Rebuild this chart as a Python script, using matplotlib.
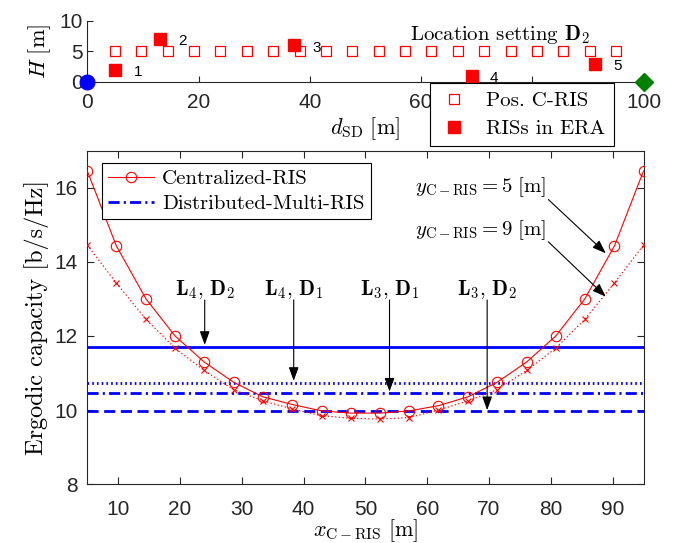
import matplotlib
matplotlib.use("Agg")
import matplotlib.pyplot as plt
from matplotlib.lines import Line2D


# CONFIGURATION

plt.rcParams['mathtext.fontset'] = 'cm'
plt.rcParams['font.family'] = 'Liberation Sans'
plt.rcParams['lines.scale_dashes'] = False
axis_gray = '#262626'
serif = 'cmr10'


# DATA

# C-RIS positions along the source-destination line [m]
x_cris = [5, 9.7, 14.5, 19.2, 23.9, 28.7, 33.4, 38.2, 42.9, 47.6,
          52.4, 57.1, 61.8, 66.6, 71.3, 76.1, 80.8, 85.5, 90.3, 95]
h_cris = [5] * len(x_cris)

# RISs used in the ERA (location setting D2)
ris_x = [5.0, 13.1, 37.1, 69.1, 91.2]
ris_h = [2, 7, 6, 1, 3]
ris_ids = ['1', '2', '3', '4', '5']

# ergodic capacity of the centralized RIS [b/s/Hz]
cap_y5 = [16.45, 14.43, 13.0, 12.0, 11.3, 10.75, 10.36, 10.15, 9.98, 9.92,
          9.92, 9.98, 10.12, 10.36, 10.75, 11.3, 12.0, 13.0, 14.43, 16.45]
cap_y9 = [14.45, 13.43, 12.45, 11.67, 11.07, 10.55, 10.25, 10.03, 9.85, 9.78,
          9.76, 9.8, 10.0, 10.25, 10.55, 11.07, 11.67, 12.45, 13.43, 14.45]

# distributed multi-RIS capacity for the four settings
dist_cap = [11.7, 10.73, 10.46, 9.97]
dist_names = [r'$\mathbf{L_4},\,\mathbf{D_2}$', r'$\mathbf{L_4},\,\mathbf{D_1}$',
              r'$\mathbf{L_3},\,\mathbf{D_1}$', r'$\mathbf{L_3},\,\mathbf{D_2}$']


# FIGURE

fig = plt.figure(figsize=(6.73, 5.43), dpi=100)
ax_top = fig.add_axes([0.1297, 0.849, 0.8265, 0.113])
ax = fig.add_axes([0.1297, 0.1081, 0.8265, 0.6146])


# TOP: GEOMETRY

ax_top.plot(x_cris, h_cris, 's', mfc='none', mec='red', ms=7, mew=0.9,
            label='Pos. C-RIS', zorder=3)
ax_top.plot(ris_x, ris_h, 's', color='red', ms=9, label='RISs in ERA', zorder=3)
for xi, hi, name in zip(ris_x, ris_h, ris_ids):
    ax_top.text(xi + 3.3, hi - 0.4, name, fontsize=11, ha='left', va='center',
                color='k')
ax_top.plot([0], [0], 'o', color='blue', ms=10.5, clip_on=False, zorder=4)
ax_top.plot([100], [0], 'D', color=(0, 0.5, 0), ms=9.5, clip_on=False, zorder=4)
ax_top.text(74.2, 7.8, r'Location setting $\mathbf{D_2}$', fontfamily=serif,
            fontsize=15, ha='center', va='center')

ax_top.set_xlim(0, 100)
ax_top.set_ylim(0, 10)
ax_top.set_xticks([0, 20, 40, 60, 80, 100])
ax_top.set_yticks([0, 5, 10])
ax_top.spines['top'].set_visible(False)
ax_top.spines['right'].set_visible(False)
for s in ax_top.spines.values():
    s.set_color(axis_gray)
    s.set_linewidth(0.8)
ax_top.tick_params(direction='in', length=4, labelsize=15, colors=axis_gray)
ax_top.tick_params(axis='x', pad=8)
ax_top.set_xlabel(r'$d_{\mathrm{SD}}\ [\mathrm{m}]$', fontsize=16, labelpad=2)
ax_top.set_ylabel(r'$H\ [\mathrm{m}]$', fontsize=16, labelpad=4)
ax_top.patch.set_alpha(0)

leg_top = ax_top.legend(loc='upper left', bbox_to_anchor=(430 / 673, 1 - 83 / 543),
                        bbox_transform=fig.transFigure, borderaxespad=0,
                        fancybox=False, framealpha=1, edgecolor='k',
                        prop={'family': serif, 'size': 15}, handlelength=1.5,
                        labelspacing=0.45, borderpad=0.4)
leg_top.get_frame().set_linewidth(0.8)
leg_top.set_zorder(10)


# BOTTOM: ERGODIC CAPACITY

ax.plot(x_cris, cap_y5, '-o', color='red', lw=0.8, ms=7.5, mfc='none', mew=0.8,
        label='Centralized-RIS', zorder=3)
ax.plot(x_cris, cap_y9, ':x', color='red', lw=0.8, ms=5, mew=0.8, zorder=3)

dash_styles = ['-', (0, (1.2, 2.2)), (0, (8, 3, 1.5, 3)), (0, (8, 4))]
for level, style in zip(dist_cap, dash_styles):
    ax.axhline(level, color='blue', lw=2, linestyle=style, zorder=2)

# labels pointing at each distributed setting
arrow_x = [24.0, 38.4, 53.9, 69.7]
arrow_tip = [11.76, 10.79, 10.5, 10.0]
arrow_style = '-|>,head_length=0.55,head_width=0.2'
for name, xa, tip in zip(dist_names, arrow_x, arrow_tip):
    ax.text(xa, 13.26, name, fontsize=15, ha='center', va='center')
    ax.annotate('', xy=(xa, tip), xytext=(xa, 12.97),
                arrowprops=dict(arrowstyle=arrow_style, color='k', lw=0.8,
                                mutation_scale=15, shrinkA=0, shrinkB=0))

ax.text(79.3, 16.02, r'$y_{\mathrm{C-RIS}} = 5\ [\mathrm{m}]$', fontsize=15,
        ha='right', va='center')
ax.text(79.3, 14.85, r'$y_{\mathrm{C-RIS}} = 9\ [\mathrm{m}]$', fontsize=15,
        ha='right', va='center')
ax.annotate('', xy=(88.9, 14.23), xytext=(79.6, 15.68),
            arrowprops=dict(arrowstyle=arrow_style, color='k', lw=0.8,
                            mutation_scale=15, shrinkA=0, shrinkB=0))
ax.annotate('', xy=(88.9, 13.06), xytext=(79.6, 14.54),
            arrowprops=dict(arrowstyle=arrow_style, color='k', lw=0.8,
                            mutation_scale=15, shrinkA=0, shrinkB=0))

ax.set_xlim(5, 95)
ax.set_ylim(8, 17)
ax.set_xticks([10, 20, 30, 40, 50, 60, 70, 80, 90])
ax.set_yticks([8, 10, 12, 14, 16])
for s in ax.spines.values():
    s.set_color(axis_gray)
    s.set_linewidth(0.8)
ax.tick_params(direction='in', length=5, labelsize=15, colors=axis_gray,
               top=True, right=True)
ax.tick_params(axis='x', pad=11)
ax.tick_params(axis='y', pad=7)
ax.set_xlabel(r'$x_{\mathrm{C-RIS}}\ [\mathrm{m}]$', fontsize=16, labelpad=-1)
ax.set_ylabel('Ergodic capacity [b/s/Hz]', fontfamily=serif, fontsize=17.5,
              labelpad=4)

handles = [Line2D([], [], color='red', lw=0.8, marker='o', ms=7.5, mfc='none',
                  mew=0.8),
           Line2D([], [], color='blue', lw=2, linestyle=dash_styles[2])]
leg = ax.legend(handles, ['Centralized-RIS', 'Distributed-Multi-RIS'],
                loc='upper left', bbox_to_anchor=(101.7 / 673, 1 - 163.3 / 543),
                bbox_transform=fig.transFigure, borderaxespad=0, fancybox=False,
                framealpha=1, edgecolor='k', prop={'family': serif, 'size': 15},
                handlelength=2.2, labelspacing=0.3, borderpad=0.3,
                handletextpad=0.4)
leg.get_frame().set_linewidth(0.8)


# SAVE

fig.savefig('out.png', dpi=100)
